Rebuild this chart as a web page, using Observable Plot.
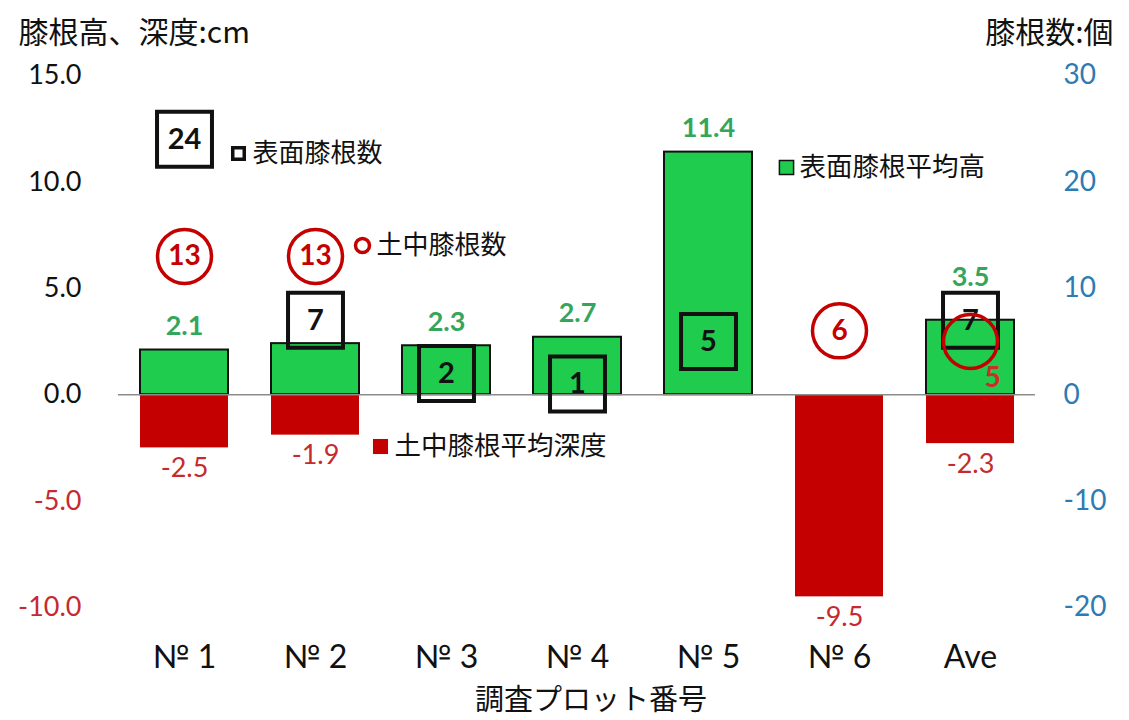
<!DOCTYPE html>
<html><head><meta charset="utf-8">
<script src="https://cdn.jsdelivr.net/npm/d3@7"></script>
<script src="https://cdn.jsdelivr.net/npm/@observablehq/plot@0.6"></script>
<style>
body{margin:0;background:#fff;}
#chart svg{display:block;}
</style></head><body><div id="chart"></div>
<script>
// ---- data ----
const plots = ["№ 1", "№ 2", "№ 3", "№ 4", "№ 5", "№ 6", "Ave"];
const surfaceHeight = [2.1, 2.4, 2.3, 2.7, 11.4, 0, 3.5];      // 表面膝根平均高 (cm)
const soilDepth = [-2.5, -1.9, 0, 0, 0, -9.5, -2.3];          // 土中膝根平均深度 (cm)
const surfaceCount = [24, 7, 2, 1, 5, null, 7];               // 表面膝根数 (個)
const soilCount = [13, 13, null, null, null, 6, 5];           // 土中膝根数 (個)
const leftTicks = [15, 10, 5, 0, -5, -10];
const rightTicks = [30, 20, 10, 0, -10, -20];
const hiddenHeightLabels = ["№ 2"];
const raisedHeightLabels = ["Ave"];
const offsetCountLabels = ["Ave"];
const countPerCm = 2; // right axis (個) vs left axis (cm)

const rows = plots.map((p, i) => ({
  plot: p, h: surfaceHeight[i], d: soilDepth[i], sc: surfaceCount[i], cc: soilCount[i]
}));

const GREEN = "#1fcc4d", GREEN_T = "#33a65c", RED = "#c40000", RED_T = "#c62a2f", BLUE = "#2e7bb3";
const JP = "'Noto Sans CJK JP', sans-serif";
const showH = r => r.h > 0 && !hiddenHeightLabels.includes(r.plot);

const chart = Plot.plot({
  width: 1129,
  height: 720,
  marginLeft: 118,
  marginRight: 94,
  marginTop: 75,
  marginBottom: 113,
  style: {fontFamily: "Lato, 'Noto Sans CJK JP', sans-serif", background: "#fff", color: "#111"},
  x: {domain: plots, paddingInner: 0.33, paddingOuter: 0.165, label: null},
  y: {domain: [-10, 15], label: null},
  marks: [
    Plot.barY(rows.filter(r => r.h > 0), {x: "plot", y: "h", fill: GREEN, stroke: "#111", strokeWidth: 2}),
    Plot.barY(rows.filter(r => r.d < 0), {x: "plot", y: "d", fill: RED}),
    Plot.ruleY([0], {stroke: "#8c8c8c", strokeWidth: 1.5}),
    Plot.axisY(leftTicks, {anchor: "left", tickSize: 0, tickPadding: 37, fontSize: 27,
      tickFormat: d => d.toFixed(1), fill: d => d < 0 ? RED_T : "#111", label: null}),
    Plot.axisY(rightTicks.map(t => t / countPerCm), {anchor: "right", tickSize: 0, tickPadding: 28, fontSize: 28,
      tickFormat: d => String(d * countPerCm), fill: BLUE, label: null}),
    Plot.axisX({tickSize: 0, tickPadding: 38, fontSize: 32, label: null}),
    // value labels
    Plot.text(rows.filter(r => showH(r) && !raisedHeightLabels.includes(r.plot)),
      {x: "plot", y: "h", text: r => r.h.toFixed(1), lineAnchor: "bottom", dy: -15, fill: GREEN_T, fontWeight: "bold", fontSize: 27}),
    Plot.text(rows.filter(r => showH(r) && raisedHeightLabels.includes(r.plot)),
      {x: "plot", y: "h", text: r => r.h.toFixed(1), lineAnchor: "bottom", dy: -34, fill: GREEN_T, fontWeight: "bold", fontSize: 27}),
    Plot.text(rows.filter(r => r.d < 0),
      {x: "plot", y: "d", text: r => r.d.toFixed(1), lineAnchor: "top", dy: 10, fill: RED_T, fontSize: 27}),
    // surface count squares (right axis)
    Plot.dot(rows.filter(r => r.sc != null),
      {x: "plot", y: r => r.sc / countPerCm, symbol: "square", r: 31, stroke: "#111", strokeWidth: 4, fill: "none"}),
    Plot.text(rows.filter(r => r.sc != null),
      {x: "plot", y: r => r.sc / countPerCm, text: "sc", fill: "#111", fontWeight: "bold", fontSize: 29}),
    // soil count circles (right axis)
    Plot.dot(rows.filter(r => r.cc != null),
      {x: "plot", y: r => r.cc / countPerCm, r: 27, stroke: RED, strokeWidth: 3.5, fill: "none"}),
    Plot.text(rows.filter(r => r.cc != null && !offsetCountLabels.includes(r.plot)),
      {x: "plot", y: r => r.cc / countPerCm, text: "cc", fill: RED, fontWeight: "bold", fontSize: 28}),
    Plot.text(rows.filter(r => r.cc != null && offsetCountLabels.includes(r.plot)),
      {x: "plot", y: r => r.cc / countPerCm, text: "cc", dx: 22, dy: 37, fill: "#c8302a", fontWeight: "bold", fontSize: 28}),
    // in-chart legends
    Plot.dot([0], {frameAnchor: "top-left", dx: 120, dy: 78, symbol: "square", r: 6.5, stroke: "#111", strokeWidth: 3.5, fill: "#fff"}),
    Plot.text(["表面膝根数"], {frameAnchor: "top-left", lineAnchor: "middle", dx: 134, dy: 78, textAnchor: "start", fontSize: 26, fontFamily: JP, fill: "#111"}),
    Plot.dot([0], {frameAnchor: "top-left", dx: 244, dy: 170, r: 7, stroke: RED, strokeWidth: 3.5, fill: "#fff"}),
    Plot.text(["土中膝根数"], {frameAnchor: "top-left", lineAnchor: "middle", dx: 258, dy: 170, textAnchor: "start", fontSize: 26, fontFamily: JP, fill: "#111"}),
    Plot.dot([0], {frameAnchor: "top-left", dx: 668, dy: 92, symbol: "square", r: 8, stroke: "#111", strokeWidth: 1.5, fill: GREEN}),
    Plot.text(["表面膝根平均高"], {frameAnchor: "top-left", lineAnchor: "middle", dx: 681, dy: 92, textAnchor: "start", fontSize: 26.5, fontFamily: JP, fill: "#111"}),
    Plot.dot([0], {frameAnchor: "top-left", dx: 262, dy: 371, symbol: "square", r: 8.5, fill: RED}),
    Plot.text(["土中膝根平均深度"], {frameAnchor: "top-left", lineAnchor: "middle", dx: 276, dy: 371, textAnchor: "start", fontSize: 26.5, fontFamily: JP, fill: "#111"}),
    // titles
    Plot.text(["膝根高、深度:cm"], {frameAnchor: "top-left", lineAnchor: "middle", dx: -100, dy: -42, textAnchor: "start", fontSize: 30, fontFamily: JP, fill: "#111"}),
    Plot.text(["膝根数:個"], {frameAnchor: "top-right", lineAnchor: "middle", dx: 78, dy: -42, textAnchor: "end", fontSize: 30, fontFamily: JP, fill: "#111"}),
    Plot.text(["調査プロット番号"], {frameAnchor: "bottom", lineAnchor: "middle", dx: 14, dy: 93, fontSize: 29, fontFamily: JP, fill: "#111"})
  ]
});
document.getElementById("chart").appendChild(chart);
</script></body></html>
